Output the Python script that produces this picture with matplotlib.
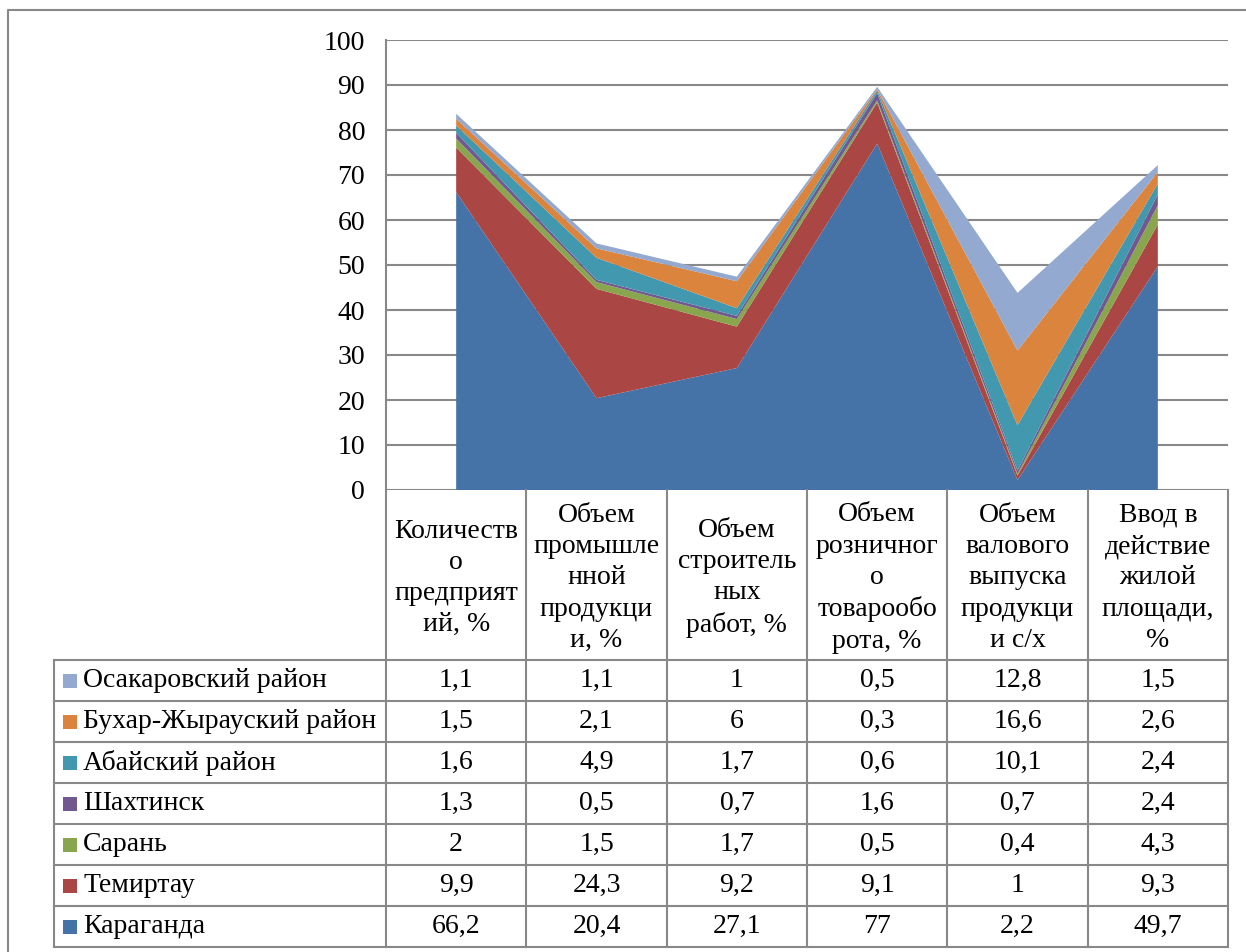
import numpy as np
import matplotlib.pyplot as plt

plt.rcParams['font.family'] = ['Liberation Serif', 'DejaVu Serif']

categories = [
    "Количеств\nо\nпредприят\nий, %",
    "Объем\nпромышле\nнной\nпродукци\nи, %",
    "Объем\nстроитель\nных\nработ, %",
    "Объем\nрозничног\nо\nтоварообо\nрота, %",
    "Объем\nвалового\nвыпуска\nпродукци\nи с/х",
    "Ввод в\nдействие\nжилой\nплощади,\n%",
]

# series from bottom of the stack to top
names = ["Караганда", "Темиртау", "Сарань", "Шахтинск",
         "Абайский район", "Бухар-Жырауский район", "Осакаровский район"]
karaganda = [66.2, 20.4, 27.1, 77, 2.2, 49.7]
temirtau = [9.9, 24.3, 9.2, 9.1, 1, 9.3]
saran = [2, 1.5, 1.7, 0.5, 0.4, 4.3]
shakhtinsk = [1.3, 0.5, 0.7, 1.6, 0.7, 2.4]
abay = [1.6, 4.9, 1.7, 0.6, 10.1, 2.4]
bukhar = [1.5, 2.1, 6, 0.3, 16.6, 2.6]
osakarovka = [1.1, 1.1, 1, 0.5, 12.8, 1.5]
series = [karaganda, temirtau, saran, shakhtinsk, abay, bukhar, osakarovka]
colors = ["#4572A7", "#AA4643", "#89A54E", "#71588F",
          "#4198AF", "#DB843D", "#93A9CF"]

W, H = 1246, 952
fig = plt.figure(figsize=(W / 100, H / 100), dpi=100)

# layout in pixels
left, right = 386, 1228
y0_px, y100_px = 490, 40
label_left = 54
header_bottom = 660
row_h = 41
grid_col = "#888888"
fs = 20

def fx(px):
    return px / W

def fy(py):
    return 1 - py / H

# stacked area chart
ax = fig.add_axes([fx(left), fy(y0_px), fx(right - left), (y0_px - y100_px) / H])
x = np.arange(len(categories))
ax.stackplot(x, series, colors=colors, linewidth=0)
ax.set_xlim(-0.5, len(categories) - 0.5)
ax.set_ylim(0, 100)
ax.set_yticks(range(0, 101, 10))
ax.yaxis.grid(True, color=grid_col, linewidth=1.5)
ax.set_axisbelow(True)
ax.set_xticks([])
ax.tick_params(axis='y', length=0, pad=15, labelsize=fs)
for s in ['top', 'right', 'bottom']:
    ax.spines[s].set_visible(False)
ax.spines['left'].set_color(grid_col)
ax.spines['left'].set_linewidth(1.5)

# overlay axes in pixel coordinates for the data table and the frame
tab = fig.add_axes([0, 0, 1, 1])
tab.set_xlim(0, W)
tab.set_ylim(H, 0)
tab.axis('off')

# outer chart frame
tab.plot([8, 8, W + 5], [H + 5, 10, 10], color=grid_col, lw=1.5)

ncol = len(categories)
col_w = (right - left) / ncol
nrow = len(names)
table_bottom = header_bottom + nrow * row_h

# table grid
tab.plot([left, left], [y0_px, table_bottom], color=grid_col, lw=1.5)
for i in range(nrow + 1):
    yy = header_bottom + i * row_h
    tab.plot([label_left, right], [yy, yy], color=grid_col, lw=1.5)
tab.plot([label_left, label_left], [header_bottom, table_bottom], color=grid_col, lw=1.5)
for j in range(1, ncol + 1):
    xx = left + j * col_w
    tab.plot([xx, xx], [y0_px, table_bottom], color=grid_col, lw=1.5)

# header cells
for j, cat in enumerate(categories):
    tab.text(left + (j + 0.5) * col_w, (y0_px + header_bottom) / 2 + 3, cat,
             ha='center', va='center', fontsize=fs, linespacing=1.33)

# rows: top row is the last series
for i in range(nrow):
    k = nrow - 1 - i
    yc = header_bottom + (i + 0.5) * row_h
    tab.add_patch(plt.Rectangle((63, yc - 7), 14, 14, color=colors[k], lw=0))
    tab.text(83, yc, names[k], ha='left', va='center', fontsize=fs)
    for j, v in enumerate(series[k]):
        txt = ("%g" % v).replace('.', ',')
        tab.text(left + (j + 0.5) * col_w, yc, txt, ha='center', va='center', fontsize=fs)

fig.savefig("out.png", dpi=100)
